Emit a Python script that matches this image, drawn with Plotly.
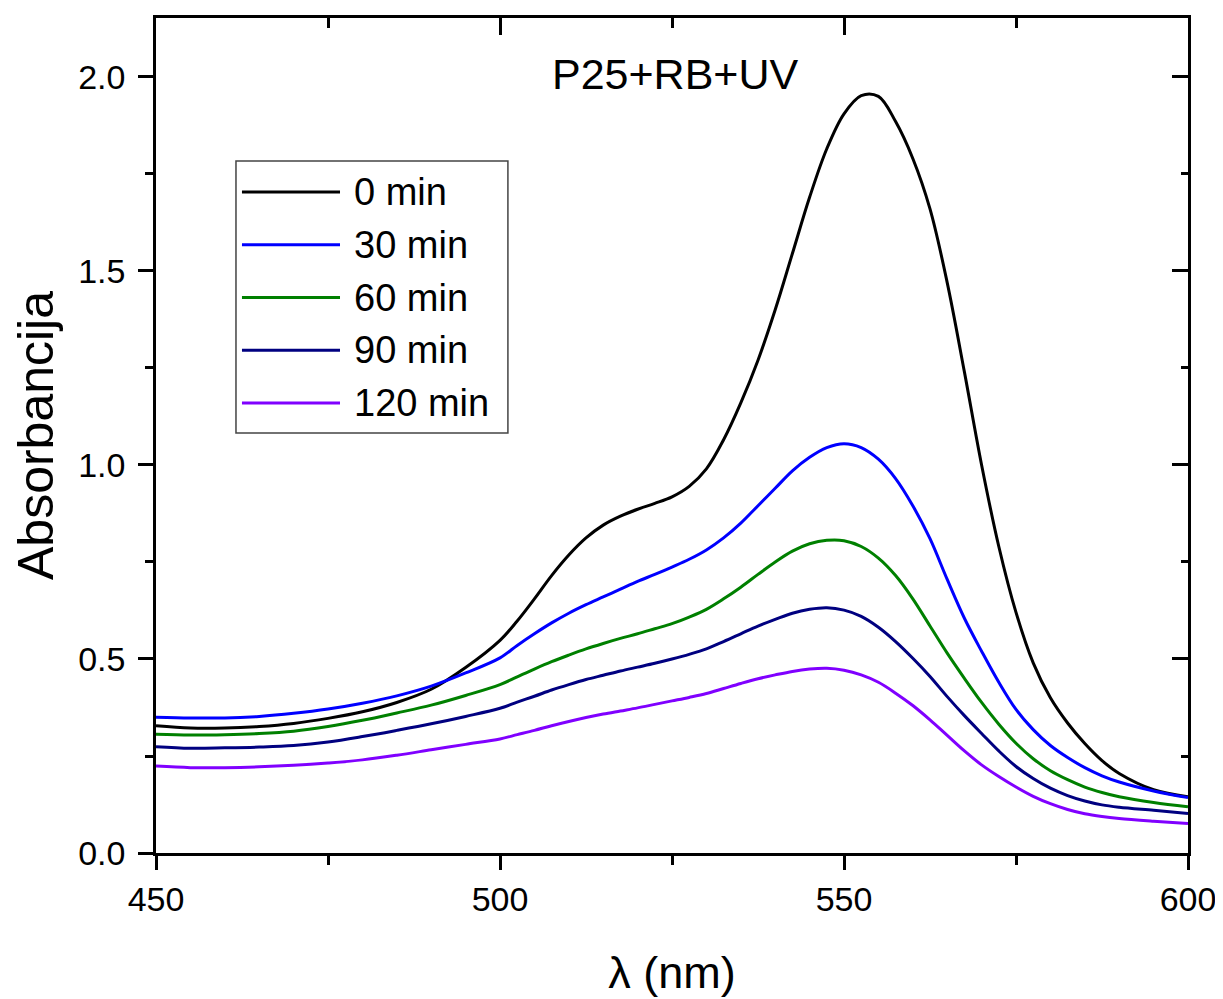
import plotly.graph_objects as go

# ---------------- data ----------------
wavelength = [450, 455, 460, 465, 470, 475, 480, 485, 490, 495, 500,
              502.5, 505, 507.5, 510, 512.5, 515, 517.5, 520, 522.5, 525,
              527.5, 530, 532.5, 535, 537.5, 540, 542.5, 545, 547.5, 550,
              552.5, 555, 557.5, 560, 562.5, 565, 567.5, 570, 572.5, 575,
              577.5, 580, 582.5, 585, 587.5, 590, 595, 600]

abs_0min = [0.328, 0.322, 0.322, 0.326, 0.334, 0.347, 0.364, 0.388, 0.422, 0.478, 0.548,
            0.598, 0.655, 0.715, 0.768, 0.812, 0.845, 0.868, 0.886, 0.901, 0.918,
            0.945, 0.990, 1.065, 1.160, 1.270, 1.400, 1.545, 1.690, 1.815, 1.905,
            1.952, 1.950, 1.885, 1.790, 1.660, 1.470, 1.240, 1.000, 0.790, 0.620,
            0.490, 0.400, 0.335, 0.282, 0.238, 0.205, 0.163, 0.145]

abs_30min = [0.350, 0.348, 0.348, 0.352, 0.360, 0.371, 0.386, 0.405, 0.430, 0.464, 0.503,
             0.535, 0.565, 0.593, 0.618, 0.640, 0.660, 0.680, 0.700, 0.718, 0.737,
             0.757, 0.781, 0.812, 0.850, 0.895, 0.940, 0.985, 1.020, 1.045, 1.055,
             1.045, 1.015, 0.965, 0.895, 0.810, 0.705, 0.605, 0.520, 0.440, 0.370,
             0.318, 0.277, 0.246, 0.220, 0.199, 0.183, 0.160, 0.143]

abs_60min = [0.306, 0.304, 0.305, 0.308, 0.314, 0.326, 0.342, 0.361, 0.381, 0.406, 0.434,
             0.454, 0.474, 0.493, 0.510, 0.526, 0.540, 0.553, 0.565, 0.578, 0.591,
             0.608, 0.628, 0.655, 0.685, 0.718, 0.750, 0.778, 0.797, 0.806, 0.805,
             0.790, 0.760, 0.715, 0.655, 0.585, 0.515, 0.450, 0.388, 0.332, 0.283,
             0.243, 0.212, 0.189, 0.170, 0.156, 0.145, 0.130, 0.119]

abs_90min = [0.274, 0.270, 0.271, 0.273, 0.277, 0.286, 0.300, 0.316, 0.333, 0.352, 0.373,
             0.389, 0.404, 0.420, 0.434, 0.447, 0.458, 0.469, 0.479, 0.489, 0.500,
             0.512, 0.526, 0.545, 0.565, 0.585, 0.602, 0.618, 0.628, 0.632, 0.626,
             0.610, 0.582, 0.545, 0.502, 0.455, 0.403, 0.354, 0.308, 0.263, 0.223,
             0.192, 0.167, 0.148, 0.134, 0.124, 0.118, 0.110, 0.102]

abs_120min = [0.224, 0.220, 0.220, 0.222, 0.226, 0.232, 0.240, 0.252, 0.266, 0.280, 0.294,
              0.305, 0.316, 0.328, 0.339, 0.349, 0.358, 0.366, 0.374, 0.383, 0.392,
              0.401, 0.411, 0.424, 0.437, 0.449, 0.459, 0.468, 0.474, 0.476, 0.471,
              0.459, 0.440, 0.412, 0.380, 0.343, 0.303, 0.263, 0.227, 0.197, 0.170,
              0.146, 0.127, 0.112, 0.101, 0.094, 0.089, 0.082, 0.076]

series_names = ["0 min", "30 min", "60 min", "90 min", "120 min"]
series_values = [abs_0min, abs_30min, abs_60min, abs_90min, abs_120min]
series_colors = ["#000000", "#0000FF", "#008000", "#000080", "#8000FF"]

x_ticks = [450, 500, 550, 600]
y_ticks = [0.0, 0.5, 1.0, 1.5, 2.0]

FONT = "Liberation Sans, Arial, sans-serif"

fig = go.Figure()
for name, vals, col in zip(series_names, series_values, series_colors):
    fig.add_trace(go.Scatter(x=wavelength, y=vals, mode="lines", name=name,
                             line=dict(color=col, width=3, shape="spline", smoothing=1.0),
                             showlegend=False))

# helper trace so the mirrored (top/right) axes are drawn
fig.add_trace(go.Scatter(x=[wavelength[0]], y=[None], xaxis="x2", yaxis="y2",
                         mode="lines", showlegend=False, hoverinfo="skip"))

XR = [450, 600]
YR = [0, 2.152]
axis_common = dict(showline=True, linecolor="black", linewidth=2.5, automargin=False,
                   showgrid=False, zeroline=False, tickcolor="black", tickwidth=2.5)

fig.update_layout(
    width=1223, height=999,
    margin=dict(l=148, r=43, t=10, b=154),
    plot_bgcolor="white", paper_bgcolor="white",
    font=dict(family=FONT, color="black"),
    xaxis=dict(range=XR, tickvals=x_ticks, ticks="outside", ticklen=14,
               tickfont=dict(size=34), ticklabelstandoff=0,
               minor=dict(dtick=25, tick0=450, ticks="outside", ticklen=9,
                          tickwidth=2.5, tickcolor="black"),
               title=dict(text="λ (nm)", font=dict(size=45), standoff=40),
               **axis_common),
    yaxis=dict(range=YR, tickvals=y_ticks, tickformat=".1f", ticks="outside", ticklen=15,
               tickfont=dict(size=34), ticklabelstandoff=6,
               minor=dict(dtick=0.25, tick0=0, ticks="outside", ticklen=8,
                          tickwidth=2.5, tickcolor="black"),
               title=dict(text="Absorbancija", font=dict(size=50), standoff=15),
               **axis_common),
    xaxis2=dict(range=XR, overlaying="x", side="top", tickvals=x_ticks, ticks="inside",
                ticklen=17, showticklabels=False,
                minor=dict(dtick=25, tick0=450, ticks="inside", ticklen=10,
                           tickwidth=2.5, tickcolor="black"),
                **axis_common),
    yaxis2=dict(range=YR, overlaying="y", side="right", tickvals=y_ticks, ticks="inside",
                ticklen=16, showticklabels=False,
                minor=dict(dtick=0.25, tick0=0, ticks="inside", ticklen=7,
                           tickwidth=2.5, tickcolor="black"),
                **axis_common),
)

# inner title
fig.add_annotation(text="P25+RB+UV", xref="paper", yref="paper", x=0.503, y=0.933,
                   showarrow=False, font=dict(size=43, family=FONT, color="black"),
                   xanchor="center", yanchor="middle")

# custom legend (box, sample lines, labels)
box_x0, box_x1, box_y0, box_y1 = 0.0775, 0.341, 0.503, 0.8287
fig.add_shape(type="rect", xref="paper", yref="paper", x0=box_x0, x1=box_x1,
              y0=box_y0, y1=box_y1, line=dict(color="#444444", width=1.5),
              fillcolor="white", layer="above")
first_item_y = 0.7916
item_step = 0.0632
for i, (name, col) in enumerate(zip(series_names, series_colors)):
    yy = first_item_y - i * item_step
    fig.add_shape(type="line", xref="paper", yref="paper", x0=0.0833, x1=0.1783,
                  y0=yy, y1=yy, line=dict(color=col, width=3), layer="above")
    fig.add_annotation(text=name, xref="paper", yref="paper", x=0.19, y=yy,
                       showarrow=False, xanchor="left", yanchor="middle",
                       font=dict(size=38, family=FONT, color="black"))

fig.write_html("out.html")
